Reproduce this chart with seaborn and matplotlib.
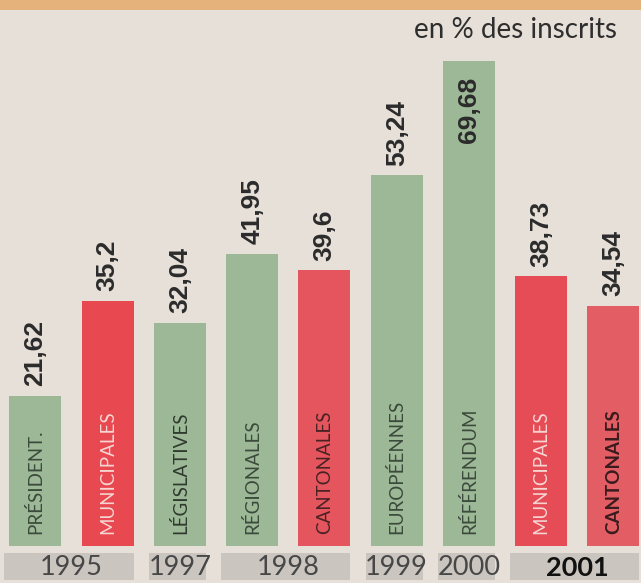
import matplotlib
matplotlib.use("Agg")
import matplotlib.pyplot as plt
from matplotlib.patches import Rectangle
import seaborn as sns
import pandas as pd

# données : participation en % des inscrits
scrutins = ["PRÉSIDENT.", "MUNICIPALES", "LÉGISLATIVES", "RÉGIONALES", "CANTONALES",
            "EUROPÉENNES", "RÉFÉRENDUM", "MUNICIPALES", "CANTONALES"]
valeurs = [21.62, 35.2, 32.04, 41.95, 39.6, 53.24, 69.68, 38.73, 34.54]
etiquettes = ["21,62", "35,2", "32,04", "41,95", "39,6", "53,24", "69,68", "38,73", "34,54"]
annees = ["1995", "1997", "1998", "1999", "2000", "2001"]
groupes = [(0, 1), (2, 2), (3, 4), (5, 5), (6, 6), (7, 8)]

vert = "#9cb897"
couleurs = [vert, "#e8484f", vert, vert, "#e4555d", vert, vert, "#e64c55", "#e35e64"]
couleurs_txt = ["#3b4a3a", "#f6d6d4", "#2f3a2e", "#3b4a3a", "#4a2224",
                "#3b4a3a", "#3b4a3a", "#f6d6d4", "#3a1c1e"]
gras = [False] * 8 + [True]

fond = "#e7e0d9"

df = pd.DataFrame({"id": [f"{s}_{i}" for i, s in enumerate(scrutins)], "valeur": valeurs})

fig = plt.figure(figsize=(6.41, 5.83), dpi=100, facecolor=fond)
ax = fig.add_axes([0, 37 / 583, 1, 546 / 583])
ax.set_facecolor(fond)

sns.barplot(data=df, x="id", y="valeur", hue="id", palette=couleurs, width=0.72,
            legend=False, ax=ax, saturation=1)

ax.set_xlim(-0.491, 8.381)
ax.set_ylim(0, 78.45)
ax.set_xlabel("")
ax.set_ylabel("")
ax.set_xticks([])
ax.set_yticks([])
sns.despine(ax=ax, left=True, bottom=True)

# valeurs au-dessus des barres (dans la barre pour le référendum)
for i, (v, lab) in enumerate(zip(valeurs, etiquettes)):
    if v > 60:
        ax.annotate(lab, (i, v), xytext=(0, -11), textcoords="offset points",
                    rotation=90, ha="center", va="top", fontsize=19,
                    fontweight="bold", family="Liberation Sans", color="#2b2b2b")
    else:
        ax.annotate(lab, (i, v), xytext=(0, 7), textcoords="offset points",
                    rotation=90, ha="center", va="bottom", fontsize=19,
                    fontweight="bold", family="Liberation Sans", color="#2b2b2b")

# noms des scrutins dans les barres
for i, s in enumerate(scrutins):
    ax.annotate(s, (i, 0), xytext=(0, 9), textcoords="offset points",
                rotation=90, ha="center", va="bottom", fontsize=13.5,
                family="Lato", color=couleurs_txt[i],
                fontweight="bold" if gras[i] else "normal")

# années sous les barres
trans = ax.get_xaxis_transform()
for an, (a, b) in zip(annees, groupes):
    ax.add_patch(Rectangle((a - 0.43, -0.0623), (b + 0.36) - (a - 0.43), 0.0495,
                           transform=trans, facecolor="#cbc5bf", edgecolor="none",
                           clip_on=False))
    ax.text((a + b) / 2, -0.04, an, transform=trans, ha="center", va="center",
            fontsize=19.5, family="Lato", clip_on=False,
            color="#111111" if an == "2001" else "#474747",
            fontweight="bold" if an == "2001" else "normal")

# bandeau du haut et unité
fig.patches.append(Rectangle((0, 1 - 10 / 583), 1, 10 / 583, transform=fig.transFigure,
                             facecolor="#e6b27c", edgecolor="none"))
fig.text(617 / 641, 1 - 38 / 583, "en % des inscrits", ha="right", va="baseline",
         fontsize=20, family="Lato", color="#2e2e2e")

plt.savefig("out.png", dpi=100, facecolor=fond)
